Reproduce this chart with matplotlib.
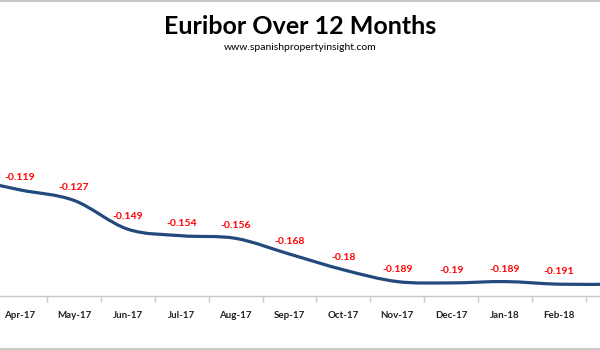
import numpy as np
import matplotlib
matplotlib.use("Agg")
import matplotlib.pyplot as plt
from matplotlib.path import Path
from matplotlib.patches import PathPatch
from matplotlib.lines import Line2D

months = ["Mar-17", "Apr-17", "May-17", "Jun-17", "Jul-17", "Aug-17", "Sep-17",
          "Oct-17", "Nov-17", "Dec-17", "Jan-18", "Feb-18", "Mar-18"]
values = [-0.110, -0.119, -0.127, -0.149, -0.154, -0.156, -0.168,
          -0.180, -0.189, -0.190, -0.189, -0.191, -0.191]
labels = ["-0.11", "-0.119", "-0.127", "-0.149", "-0.154", "-0.156", "-0.168",
          "-0.18", "-0.189", "-0.19", "-0.189", "-0.191", "-0.191"]

FONT = ["Lato", "DejaVu Sans"]
LINE_COLOR = "#234A7C"

fig = plt.figure(figsize=(6, 3.5), dpi=100)
ax = fig.add_axes([0, 1 - 296 / 350, 1, (296 - 34) / 350])

x = np.arange(len(values), dtype=float)
y = np.array(values)

# Excel-style smoothed line: cubic Bezier through points
verts = [(x[0], y[0])]
codes = [Path.MOVETO]
n = len(x)
for i in range(n - 1):
    p0 = np.array([x[max(i - 1, 0)], y[max(i - 1, 0)]])
    p1 = np.array([x[i], y[i]])
    p2 = np.array([x[i + 1], y[i + 1]])
    p3 = np.array([x[min(i + 2, n - 1)], y[min(i + 2, n - 1)]])
    c1 = p1 + (p2 - p0) / 6.0
    c2 = p2 - (p3 - p1) / 6.0
    verts += [tuple(c1), tuple(c2), tuple(p2)]
    codes += [Path.CURVE4] * 3
patch = PathPatch(Path(verts, codes), facecolor="none", edgecolor=LINE_COLOR,
                  lw=2.3, capstyle="round", joinstyle="round")
ax.add_patch(patch)

for xi, yi, lab in zip(x, y, labels):
    ax.annotate(lab, (xi, yi), xytext=(0, 9), textcoords="offset points",
                ha="center", va="center", color="#FF0000", fontsize=7.5,
                fontweight="bold", family=FONT)

for s in ["top", "right", "left"]:
    ax.spines[s].set_visible(False)
ax.spines["bottom"].set_color("#C8C8C8")
ax.spines["bottom"].set_linewidth(1)
ax.set_yticks([])
ax.set_xticks(x)
ax.set_xticklabels(months, fontsize=7, fontweight="bold", family=FONT, color="#222222")
ax.set_xticks(np.arange(-0.5, len(x), 1), minor=True)
ax.tick_params(axis="x", which="major", length=0, pad=11)
ax.tick_params(axis="x", which="minor", length=4, color="#C8C8C8", width=1)

ax.set_xlim(1 - 20 / 53.9, 1 + 580 / 53.9)
ax.set_ylim(-0.2, 0)

fig.text(0.5, 1 - 27 / 350, "Euribor Over 12 Months", ha="center", va="center",
         fontsize=18, fontweight="bold", family=FONT, color="black")
fig.text(0.5, 1 - 47 / 350, "www.spanishpropertyinsight.com", ha="center",
         va="center", fontsize=7.5, family=FONT, color="black")

fig.add_artist(Line2D([0, 1], [1 - 1 / 350, 1 - 1 / 350], transform=fig.transFigure,
                      color="#BEBEBE", lw=1.2))
fig.add_artist(Line2D([0, 1], [1 / 350, 1 / 350], transform=fig.transFigure,
                      color="#BEBEBE", lw=1.2))

fig.savefig("out.png", dpi=100)
